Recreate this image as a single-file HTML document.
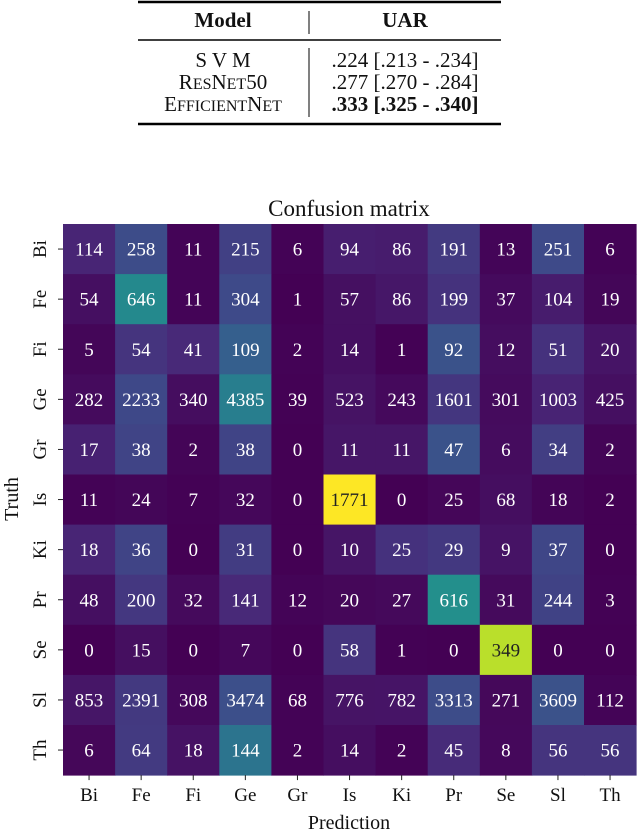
<!DOCTYPE html>
<html><head><meta charset="utf-8"><style>
body{margin:0;background:#fff;width:640px;height:832px;overflow:hidden;font-family:"Liberation Serif",serif;}
svg{display:block}
</style></head><body>
<svg id="s" width="640" height="832" xmlns="http://www.w3.org/2000/svg">
<g font-family="Liberation Serif, serif" font-size="21" fill="#111">
<line x1="138" y1="2" x2="501" y2="2" stroke="#000" stroke-width="2.5"/>
<text x="223" y="27" text-anchor="middle" font-weight="bold">Model</text>
<text x="405" y="27" text-anchor="middle" font-weight="bold">UAR</text>
<line x1="309" y1="11" x2="309" y2="34" stroke="#000" stroke-width="1"/>
<line x1="138" y1="40" x2="501" y2="40" stroke="#000" stroke-width="1.5"/>
<line x1="309" y1="48" x2="309" y2="117" stroke="#000" stroke-width="1"/>
<text x="223" y="67" text-anchor="middle">S V M</text>
<text x="223" y="89" text-anchor="middle">R<tspan font-size="16">ES</tspan>N<tspan font-size="16">ET</tspan>50</text>
<text x="223" y="111" text-anchor="middle">E<tspan font-size="16">FFICIENT</tspan>N<tspan font-size="16">ET</tspan></text>
<text x="405" y="67" text-anchor="middle">.224 [.213 - .234]</text>
<text x="405" y="89" text-anchor="middle">.277 [.270 - .284]</text>
<text x="405" y="111" text-anchor="middle" font-weight="bold">.333 [.325 - .340]</text>
<line x1="138" y1="124" x2="501" y2="124" stroke="#000" stroke-width="2.5"/>
</g>
<text x="349" y="216" text-anchor="middle" font-size="23" fill="#111">Confusion matrix</text>
<g id="cells"></g>
<g id="axes"></g>
<text x="349" y="829" text-anchor="middle" font-size="20" fill="#111">Prediction</text>
<text transform="translate(18,499) rotate(-90)" text-anchor="middle" font-size="20" fill="#111">Truth</text>
</svg>
<script>
const categories=["Bi","Fe","Fi","Ge","Gr","Is","Ki","Pr","Se","Sl","Th"];
const row_Bi=[114,258,11,215,6,94,86,191,13,251,6];
const row_Fe=[54,646,11,304,1,57,86,199,37,104,19];
const row_Fi=[5,54,41,109,2,14,1,92,12,51,20];
const row_Ge=[282,2233,340,4385,39,523,243,1601,301,1003,425];
const row_Gr=[17,38,2,38,0,11,11,47,6,34,2];
const row_Is=[11,24,7,32,0,1771,0,25,68,18,2];
const row_Ki=[18,36,0,31,0,10,25,29,9,37,0];
const row_Pr=[48,200,32,141,12,20,27,616,31,244,3];
const row_Se=[0,15,0,7,0,58,1,0,349,0,0];
const row_Sl=[853,2391,308,3474,68,776,782,3313,271,3609,112];
const row_Th=[6,64,18,144,2,14,2,45,8,56,56];
const matrix=[row_Bi,row_Fe,row_Fi,row_Ge,row_Gr,row_Is,row_Ki,row_Pr,row_Se,row_Sl,row_Th];

const L=63,T=224,CW=52.1,CH=50.1;
const xPos=i=>L+i*CW, yPos=j=>T+j*CH;
const vir=[[68,1,84],[72,40,120],[62,74,137],[49,104,142],[38,130,142],[31,158,137],[53,183,121],[109,205,89],[180,222,44],[253,231,37]];
function cmap(t){t=Math.max(0,Math.min(1,t));const p=t*(vir.length-1),i=Math.min(Math.floor(p),vir.length-2),f=p-i;
const c=vir[i].map((v,k)=>Math.round(v+(vir[i+1][k]-v)*f));return `rgb(${c.join(',')})`;}
const norm=matrix.map(r=>{const s=r.reduce((a,b)=>a+b,0);return r.map(v=>v/s);});
const vmax=Math.max(...norm.flat());
const NS="http://www.w3.org/2000/svg";
const g=document.getElementById('cells'),ax=document.getElementById('axes');
matrix.forEach((r,j)=>r.forEach((v,i)=>{
 const t=norm[j][i]/vmax;
 const rc=document.createElementNS(NS,'rect');
 rc.setAttribute('x',xPos(i));rc.setAttribute('y',yPos(j));rc.setAttribute('width',CW+0.5);rc.setAttribute('height',CH+0.5);
 rc.setAttribute('fill',cmap(t));
 
 
 g.appendChild(rc);
 const tx=document.createElementNS(NS,'text');
 tx.setAttribute('x',xPos(i)+CW/2);tx.setAttribute('y',yPos(j)+CH/2+6.5);
 tx.setAttribute('text-anchor','middle');tx.setAttribute('font-size','19');
 tx.setAttribute('fill',t>0.6?'#222':'#fff');
 tx.textContent=v;
 
 
 g.appendChild(tx);
}));
categories.forEach((c,i)=>{
 const xt=document.createElementNS(NS,'text');
 xt.setAttribute('x',xPos(i)+CW/2);xt.setAttribute('y',801);xt.setAttribute('text-anchor','middle');xt.setAttribute('font-size','19');xt.setAttribute('fill','#111');
 xt.textContent=c;
 
 
 ax.appendChild(xt);
 const xl=document.createElementNS(NS,'line');
 xl.setAttribute('x1',xPos(i)+CW/2);xl.setAttribute('x2',xPos(i)+CW/2);xl.setAttribute('y1',T+11*CH);xl.setAttribute('y2',T+11*CH+5);xl.setAttribute('stroke','#222');
 
 
 ax.appendChild(xl);
 const cy=yPos(i)+CH/2;
 const yt=document.createElementNS(NS,'text');
 yt.setAttribute('transform',`translate(46,${cy}) rotate(-90)`);yt.setAttribute('text-anchor','middle');yt.setAttribute('font-size','19');yt.setAttribute('fill','#111');
 yt.textContent=c;
 
 
 ax.appendChild(yt);
 const yl=document.createElementNS(NS,'line');
 yl.setAttribute('x1',L-5);yl.setAttribute('x2',L);yl.setAttribute('y1',cy);yl.setAttribute('y2',cy);yl.setAttribute('stroke','#222');
 
 
 ax.appendChild(yl);
});
</script>
</body></html>
